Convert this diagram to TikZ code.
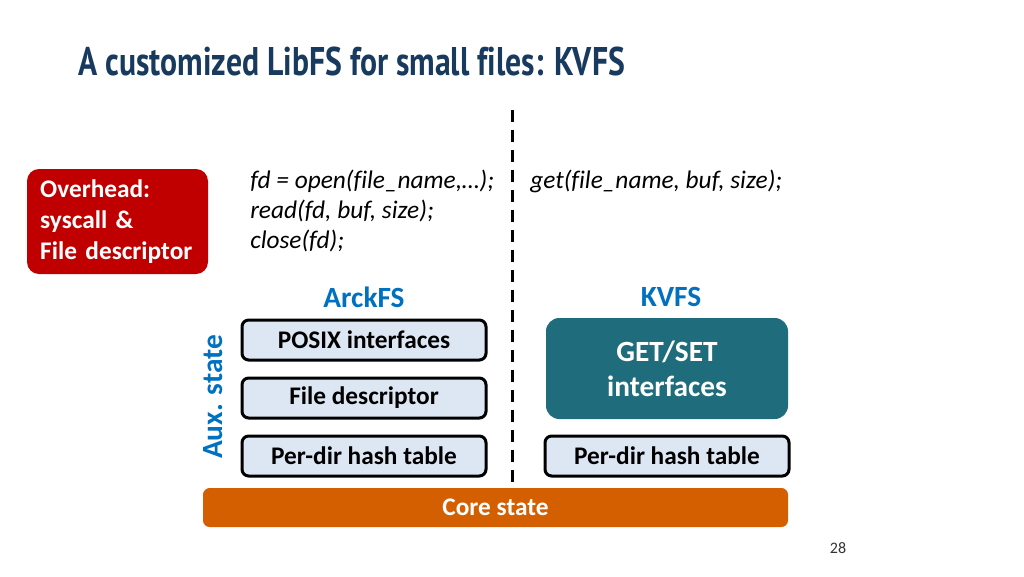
\documentclass[tikz,border=0pt]{standalone}
\usepackage{fontspec}
\setmainfont{Carlito}[Ligatures={TeX,NoCommon}]
\newfontfamily\titlefont{PT Sans}[Ligatures={TeX,NoCommon}]
\usepackage{graphicx}
\definecolor{titleblue}{HTML}{173A5E}
\definecolor{ohred}{HTML}{C00000}
\definecolor{fsblue}{HTML}{0070C0}
\definecolor{kvteal}{HTML}{1F6D7C}
\definecolor{boxfill}{HTML}{DDE7F4}
\definecolor{coreorange}{HTML}{D45F00}
\tikzset{
  layerbox/.style={draw=black, line width=2.25pt, fill=boxfill, rounded corners=5pt,
    minimum width=183pt, minimum height=30pt, inner sep=0pt,
    font=\fontsize{19}{22}\selectfont\bfseries},
  codetext/.style={anchor=base west, inner sep=0pt, font=\fontsize{19}{22}\selectfont\itshape},
  fslabel/.style={text=fsblue, inner sep=0pt, font=\fontsize{22}{26}\selectfont\bfseries},
}
\begin{document}
\begin{tikzpicture}[x=0.75pt, y=-0.75pt]
\useasboundingbox (0,0) rectangle (1024,576);
% title
\node[anchor=base west, inner sep=0pt, text=titleblue] (title) at (78,75)
  {\resizebox{410pt}{\height}{\titlefont\bfseries\fontsize{30}{36}\selectfont A customized LibFS for small files: KVFS}};
% overhead box
\node[fill=ohred, rounded corners=9pt, minimum width=135.75pt, minimum height=78.75pt,
  text width=116pt, inner xsep=9.75pt, align=left, text=white,
  font=\fontsize{19}{23}\selectfont\bfseries] (overhead) at (117.5,221.5)
  {Overhead:\\syscall \&\\File descriptor};
% code
\node[codetext] (c1) at (250,188) {fd = open(file\_name,…);};
\node[codetext] (c2) at (250,218) {read(fd, buf, size);};
\node[codetext] (c3) at (250,248) {close(fd);};
\node[codetext] (c4) at (530,188) {get(file\_name, buf, size);};
% divider
\coordinate (dtop) at (512,110);
\coordinate (dbot) at (512,482);
\draw[line width=2.25pt, dash pattern=on 9pt off 6pt] (dtop) -- (dbot);
% labels
\node[fslabel] (arck) at (364,297) {ArckFS};
\node[fslabel] (kvfs) at (671,297) {KVFS};
\node[fslabel, rotate=90] (aux) at (213,397) {Aux. state};
% left stack
\node[layerbox] (posix) at (364,340) {POSIX interfaces};
\node[layerbox] (fdesc) at (364,398) {File descriptor};
\node[layerbox] (hashl) at (364,456) {Per-dir hash table};
% right stack
\node[fill=kvteal, rounded corners=10pt, minimum width=181.5pt, minimum height=75.75pt,
  align=center, text=white, font=\fontsize{22}{26.25}\selectfont\bfseries] (getset) at (667,368.5)
  {GET/SET\\interfaces};
\node[layerbox] (hashr) at (667,456) {Per-dir hash table};
% core
\node[fill=coreorange, rounded corners=5pt, minimum width=438.75pt, minimum height=29.25pt,
  text=white, font=\fontsize{19}{22}\selectfont\bfseries] (core) at (495.5,507.5) {Core state};
% page number
\node[text=black!80, font=\fontsize{12}{14}\selectfont] (page) at (838,548) {28};
\end{tikzpicture}
\end{document}
